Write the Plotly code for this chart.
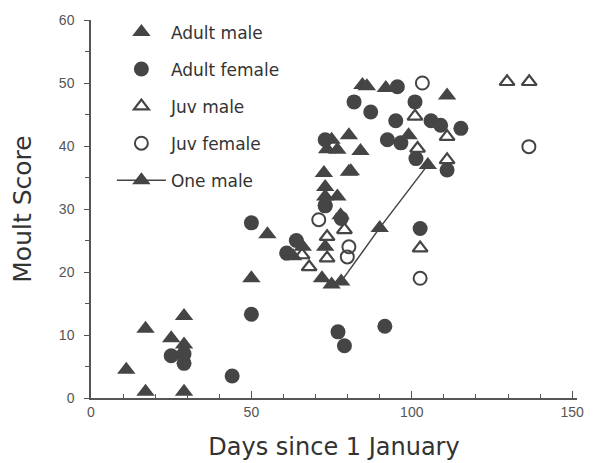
import plotly.graph_objects as go

# Adult male (filled triangles)
am_x = [11, 17, 17, 25, 29, 29, 29, 50, 55, 63, 66, 73, 72.6, 73, 73, 76.8, 77.8, 80.4, 73.6, 76.8, 80.4, 84, 84.6, 86, 91.9, 99, 111, 75, 81]
am_y = [4.5, 11, 1, 9.5, 13, 8.5, 1, 19, 26, 22.5, 24, 24, 35.7, 33.5, 32, 32, 29, 35.9, 39.5, 39.4, 41.7, 39.2, 49.7, 49.5, 49.2, 41.7, 48, 41, 36]

# Adult female (filled circles)
af_x = [25, 29, 29, 44, 50, 50, 61, 64, 73, 77, 79, 82, 87.2, 95.5, 101, 95, 92.4, 96.6, 101.3, 106, 109, 115.3, 111, 102.6, 91.6, 73, 78]
af_y = [6.7, 7, 5.5, 3.5, 13.3, 27.8, 23, 25, 41, 10.5, 8.3, 47, 45.4, 49.4, 47, 44, 41, 40.5, 38, 44, 43.3, 42.8, 36.2, 26.9, 11.4, 30.5, 28.5]

# Juvenile male (open triangles)
jm_x = [65.8, 68, 73.6, 73.6, 79, 101, 101.8, 111, 111, 102.6, 129.7, 136.6]
jm_y = [22.7, 20.8, 22.2, 25.6, 26.7, 44.7, 39.6, 41.5, 37.8, 23.8, 50.2, 50.2]

# Juvenile female (open circles)
jf_x = [71, 73, 80.4, 79.9, 103.3, 102.6, 136.5]
jf_y = [28.3, 30.6, 24, 22.4, 50, 19, 39.9]

# One male (line)
om_x = [72, 75, 78, 90, 105]
om_y = [19, 18, 18.5, 27, 37]

x_ticks = [0, 50, 100, 150]
y_ticks = [0, 10, 20, 30, 40, 50, 60]

dark = "#454545"
fig = go.Figure()
fig.add_trace(go.Scatter(x=am_x, y=am_y, mode="markers", name="Adult male", legendgroup="a",
                         marker=dict(symbol="triangle-up", size=16, color=dark, line=dict(width=0))))
fig.add_trace(go.Scatter(x=af_x, y=af_y, mode="markers", name="Adult female", legendgroup="b",
                         marker=dict(symbol="circle", size=15, color=dark, line=dict(width=0))))
fig.add_trace(go.Scatter(x=jm_x, y=jm_y, mode="markers", name="Juv male", legendgroup="c",
                         marker=dict(symbol="triangle-up-open", size=13, color=dark, line=dict(width=2.2))))
fig.add_trace(go.Scatter(x=jf_x, y=jf_y, mode="markers", name="Juv female", legendgroup="d",
                         marker=dict(symbol="circle-open", size=13, color=dark, line=dict(width=2))))
fig.add_trace(go.Scatter(x=om_x, y=om_y, mode="lines+markers", name="One male", legendgroup="e",
                         line=dict(color=dark, width=1.5),
                         marker=dict(symbol="triangle-up", size=16, color=dark)))

axis_common = dict(showline=True, linecolor="#555", linewidth=1.5, showgrid=False, zeroline=False,
                   automargin=False, tickcolor="#555",
                   tickfont=dict(family="Liberation Sans", size=14, color="#555"))
fig.update_layout(
    width=589, height=455,
    margin=dict(l=83, r=20, t=6, b=65),
    paper_bgcolor="white", plot_bgcolor="white",
    xaxis=dict(range=[0, 151.5], tickvals=x_ticks, ticks="inside", ticklen=7,
               minor=dict(dtick=10, ticks="inside", ticklen=4, tickcolor="#555"),
               title=dict(text="Days since 1 January", font=dict(family="DejaVu Sans", size=24, color="#333"), standoff=20),
               **axis_common),
    yaxis=dict(range=[0, 60], tickvals=y_ticks, ticks="outside", ticklen=5, ticklabelstandoff=7,
               minor=dict(dtick=5, ticks="outside", ticklen=4, tickcolor="#555"),
               title=dict(text="Moult Score", font=dict(family="DejaVu Sans", size=25, color="#333"), standoff=20),
               **axis_common),
    legend=dict(x=0.043, y=1.015, xanchor="left", yanchor="top", bgcolor="rgba(0,0,0,0)",
                font=dict(family="DejaVu Sans", size=17, color="#333"), tracegroupgap=12,
                itemwidth=49),
    showlegend=True,
)
fig.write_html("out.html")
